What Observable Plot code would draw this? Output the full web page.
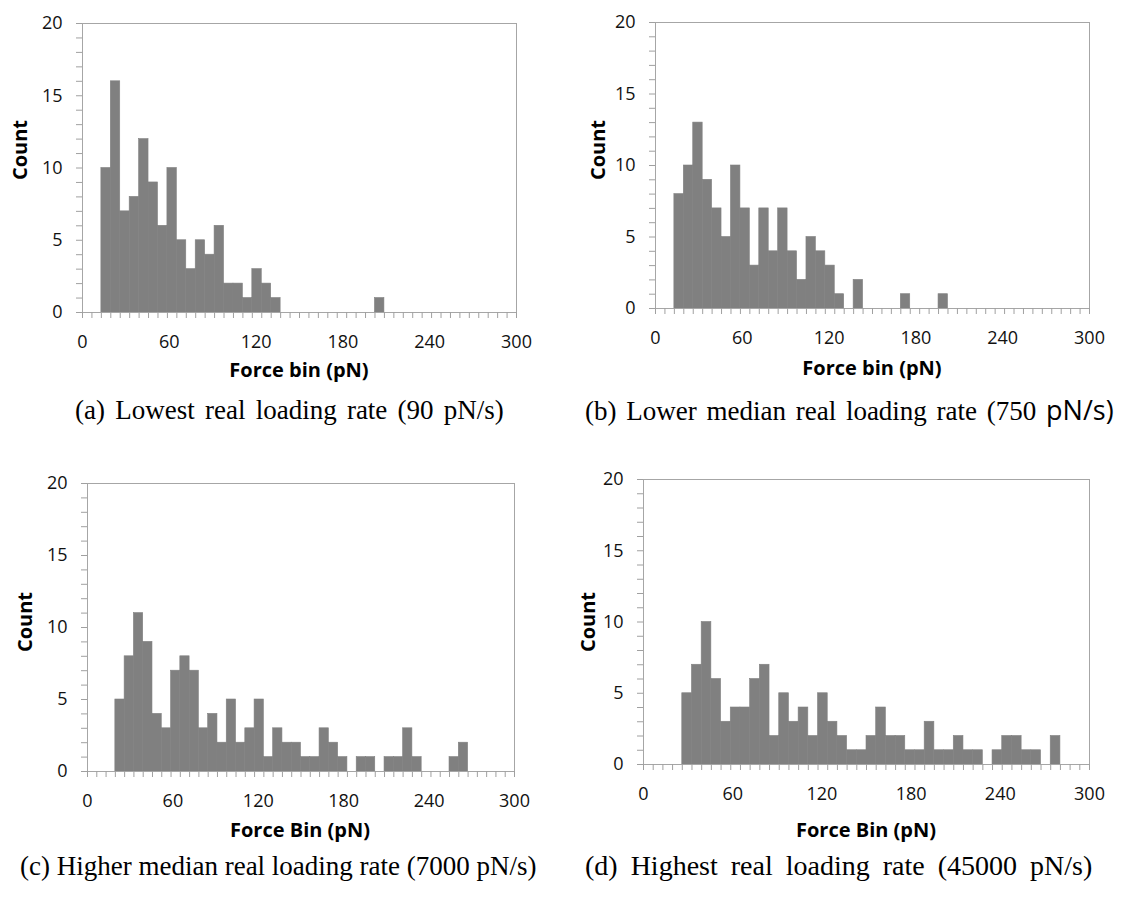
<!DOCTYPE html>
<html><head><meta charset="utf-8">
<script src="https://cdn.jsdelivr.net/npm/d3@7"></script>
<script src="https://cdn.jsdelivr.net/npm/@observablehq/plot@0.6"></script>
<style>
body{margin:0;background:#fff;}
#root{position:relative;width:1137px;height:906px;overflow:hidden;background:#fff;}
.panel{position:absolute;}
.cap{position:absolute;font-family:"Liberation Serif","Times New Roman",serif;font-size:27px;line-height:1;white-space:nowrap;color:#000;transform:translateY(-50%);}
.cap .sans{font-family:"Open Sans",sans-serif;font-size:27px;}
.ylab{position:absolute;font-family:"Open Sans",sans-serif;font-weight:bold;font-size:20px;line-height:1;white-space:nowrap;color:#000;transform:translate(-50%,-50%) rotate(-90deg);}
.xlab{position:absolute;font-family:"Open Sans",sans-serif;font-weight:bold;font-size:20px;line-height:1;white-space:nowrap;color:#000;transform:translate(-50%,-50%);}
</style></head><body><div id="root"></div>
<script>
// ---- data (counts per force bin; 46 equal bins spanning 0–300 pN) ----
const forceMax = 300;
const nBins = 46;
const countsA = [0,0,10,16,7,8,12,9,6,10,5,3,5,4,6,2,2,1,3,2,1,0,0,0,0,0,0,0,0,0,0,1,0,0,0,0,0,0,0,0,0,0,0,0,0,0];
const countsB = [0,0,8,10,13,9,7,5,10,7,3,7,4,7,4,2,5,4,3,1,0,2,0,0,0,0,1,0,0,0,1,0,0,0,0,0,0,0,0,0,0,0,0,0,0,0];
const countsC = [0,0,0,5,8,11,9,4,3,7,8,7,3,4,2,5,2,3,5,1,3,2,2,1,1,3,2,1,0,1,1,0,1,1,3,1,0,0,0,1,2,0,0,0,0,0];
const countsD = [0,0,0,0,5,7,10,6,3,4,4,6,7,2,5,3,4,2,5,3,2,1,1,2,4,2,2,1,1,3,1,1,2,1,1,0,1,2,2,1,1,0,2,0,0,0];
const xTickLabels = [0,60,120,180,240,300];
const yTickLabels = [0,5,10,15,20];
const yMinorTicks = [0,1,2,3,4,5,6,7,8,9,10,11,12,13,14,15,16,17,18,19,20];
const yLabel = "Count";
const xLabels = ["Force bin (pN)","Force bin (pN)","Force Bin (pN)","Force Bin (pN)"];

const binW = forceMax / nBins;
const binEdges = d3.range(nBins + 1).map(i => i * binW);

const root = document.getElementById("root");

function makePanel(counts, cfg) {
  const data = counts.map((c, i) => ({x1: i * binW, x2: (i + 1) * binW, count: c})).filter(d => d.count > 0);
  const svg = Plot.plot({
    width: cfg.w, height: cfg.h,
    marginLeft: cfg.ml, marginRight: cfg.mr, marginTop: cfg.mt, marginBottom: cfg.mb,
    x: {domain: [0, forceMax]},
    y: {domain: [0, 20]},
    style: {fontFamily: "'Open Sans', sans-serif", fontSize: "18px", background: "transparent", color: "#111"},
    marks: [
      Plot.rectY(data, {x1: "x1", x2: "x2", y: "count", fill: "#808080", stroke: "#808080", strokeWidth: 0.6}),
      Plot.frame({stroke: "#a6a6a6"}),
      Plot.axisX({ticks: binEdges, tickSize: 6, fill: "none", stroke: "#a0a0a0", label: null}),
      Plot.axisX({ticks: xTickLabels, tickSize: 0, tickPadding: 23, label: null, tickFormat: d => String(d), fill: "#111"}),
      Plot.axisY({ticks: yMinorTicks, tickSize: 6, fill: "none", stroke: "#a0a0a0", label: null}),
      Plot.axisY({ticks: yTickLabels, tickSize: 0, tickPadding: 20, label: null, tickFormat: d => String(d), fill: "#111"})
    ]
  });
  svg.classList.add("panel");
  svg.style.left = cfg.left + "px";
  svg.style.top = cfg.top + "px";
  root.appendChild(svg);
}

makePanel(countsA, {left: 0,   top: 0,   w: 560, h: 390, ml: 82, mr: 44, mt: 23, mb: 78});
makePanel(countsB, {left: 570, top: 0,   w: 567, h: 390, ml: 85, mr: 48, mt: 22, mb: 82});
makePanel(countsC, {left: 0,   top: 450, w: 560, h: 390, ml: 87, mr: 46, mt: 33, mb: 69});
makePanel(countsD, {left: 570, top: 450, w: 567, h: 390, ml: 73, mr: 48, mt: 29, mb: 76});

function addDiv(cls, html, x, y, ws, fs) {
  const d = document.createElement("div");
  d.className = cls;
  d.innerHTML = html;
  d.style.left = x + "px";
  d.style.top = y + "px";
  if (ws) d.style.wordSpacing = ws + "px";
  if (fs) d.style.fontSize = fs + "px";
  root.appendChild(d);
}
addDiv("ylab", yLabel, 20, 150);
addDiv("ylab", yLabel, 598, 150);
addDiv("ylab", yLabel, 25, 622);
addDiv("ylab", yLabel, 588, 622);
addDiv("xlab", xLabels[0], 299, 370);
addDiv("xlab", xLabels[1], 872, 368);
addDiv("xlab", xLabels[2], 300, 830);
addDiv("xlab", xLabels[3], 866, 830);

addDiv("cap", "(a) Lowest real loading rate (90 pN/s)", 75, 410, 3.5);
addDiv("cap", "(b) Lower median real loading rate (750 <span class=\"sans\">pN/s)</span>", 585, 410, 3);
addDiv("cap", "(c) Higher median real loading rate (7000 pN/s)", 20, 866);
addDiv("cap", "(d) Highest real loading rate (45000 pN/s)", 585, 866, 6, 28);
</script>
</body></html>
